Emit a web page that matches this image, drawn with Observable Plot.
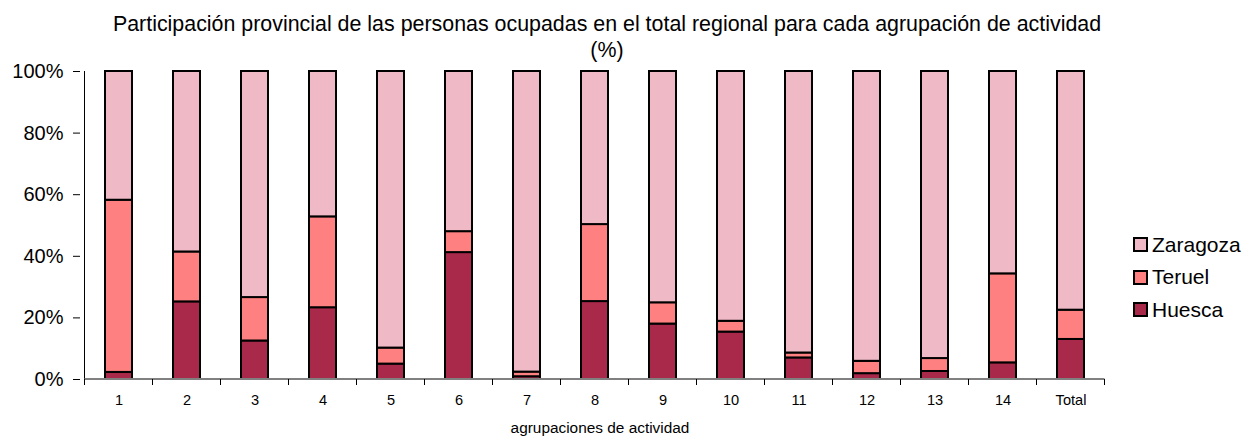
<!DOCTYPE html>
<html><head><meta charset="utf-8">
<script src="https://cdn.jsdelivr.net/npm/d3@7"></script>
<script src="https://cdn.jsdelivr.net/npm/@observablehq/plot@0.6"></script>
<style>
body{margin:0;background:#fff;font-family:"Liberation Sans",Arial,sans-serif;}
#wrap{position:relative;width:1251px;height:438px;overflow:hidden;background:#fff}
#wrap svg{position:absolute;left:0;top:0}
.t{position:absolute;white-space:nowrap;color:#000;transform:translate(-50%,-50%);line-height:1}
#t1{left:607px;top:25px;font-size:21.4px}
#t2{left:607px;top:51px;font-size:21.4px}
#xl{left:600px;top:428px;font-size:15.4px}
#legend{position:absolute;left:1133px;top:228.5px}
.li{display:flex;align-items:center;height:32.5px;font-size:21px}
.sw{width:11px;height:11px;border:2px solid #000;margin-right:4px}
</style></head><body>
<div id="wrap">
<div class="t" id="t1">Participación provincial de las personas ocupadas en el total regional para cada agrupación de actividad</div>
<div class="t" id="t2">(%)</div>
<div class="t" id="xl">agrupaciones de actividad</div>
<div id="legend"></div>
</div>
<script>
const categories = ["1","2","3","4","5","6","7","8","9","10","11","12","13","14","Total"];
const series = ["Huesca","Teruel","Zaragoza"];
const huesca   = [2.3,25.2,12.5,23.3,5.0,41.2,0.9,25.3,18.0,15.4,7.0,1.9,2.6,5.4,13.0];
const teruel   = [55.9,16.2,14.1,29.5,5.2,6.8,1.5,25.0,6.9,3.5,1.6,4.0,4.2,28.9,9.5];
const zaragoza = [41.8,58.6,73.4,47.2,89.8,52.0,97.6,49.7,75.1,81.1,91.4,94.1,93.2,65.7,77.5];
const yTicks = [0,20,40,60,80,100];
const colors = ["#A9294B","#FF8080","#EFB9C6"];

const values = [huesca, teruel, zaragoza];
const rows = [];
categories.forEach((c,i)=>series.forEach((s,j)=>rows.push({cat:c, series:s, value:values[j][i]})));

const plot = Plot.plot({
  width:1251, height:438,
  marginLeft:80, marginRight:142, marginTop:71, marginBottom:59,
  style:{fontFamily:'"Liberation Sans",Arial,sans-serif', background:"transparent", color:"#000"},
  x:{domain:categories, paddingInner:0.6, paddingOuter:0.3, label:null},
  y:{domain:[0,100], label:null},
  color:{domain:series, range:colors},
  marks:[
    Plot.barY(rows,{x:"cat", y:"value", fill:"series", order:series, stroke:"#000", strokeWidth:2}),
    Plot.axisY({ticks:yTicks, tickFormat:d=>d+"%", tickSize:7, tickPadding:10, fontSize:20, label:null}),
    Plot.axisX({tickSize:0, tickPadding:15, fontSize:14.6, label:null})
  ]
});
document.getElementById("wrap").prepend(plot);

// axis lines and category-boundary ticks derived from the plot's scales
const xs = plot.scale("x"), ys = plot.scale("y");
const svg = d3.select(plot);
const x0 = xs.apply(categories[0]) - (xs.step - xs.bandwidth)/2;
const x1 = x0 + xs.step*categories.length;
const yb = ys.apply(0), yt = ys.apply(100);
const g = svg.append("g");
g.append("line").attr("x1",x0).attr("x2",x0).attr("y1",yt).attr("y2",yb).attr("stroke","#000").attr("stroke-width",1);
g.append("line").attr("x1",x0).attr("x2",x1).attr("y1",yb).attr("y2",yb).attr("stroke","#808080").attr("stroke-width",2);
for (let i=0;i<=categories.length;i++){
  const xx = x0 + i*xs.step;
  g.append("line").attr("x1",xx).attr("x2",xx).attr("y1",yb).attr("y2",yb+6).attr("stroke","#000").attr("stroke-width",1);
}

// legend (top to bottom: Zaragoza, Teruel, Huesca)
const leg = d3.select("#legend");
series.slice().reverse().forEach(s=>{
  const it = leg.append("div").attr("class","li");
  it.append("div").attr("class","sw").style("background", colors[series.indexOf(s)]);
  it.append("span").text(s);
});
</script>
</body></html>
